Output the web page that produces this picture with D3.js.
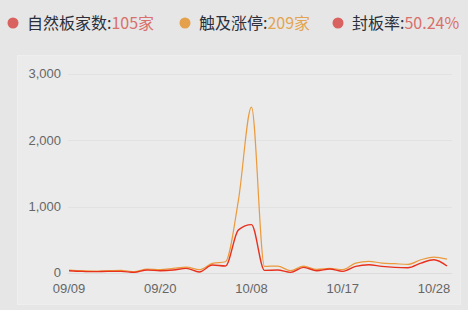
<!DOCTYPE html>
<html>
<head>
<meta charset="utf-8">
<script src="https://cdn.jsdelivr.net/npm/d3@7"></script>
<style>
  html, body { margin: 0; padding: 0; background: #e6e6e6; }
  svg { display: block; font-family: "Microsoft YaHei", "Noto Sans CJK SC", sans-serif; }
  .tick-label { font-family: "Liberation Sans", Arial, sans-serif; font-size: 13px; fill: #666; }
</style>
</head>
<body>
<script>
var width = 468, height = 310;

var dates = ['09/09','09/10','09/11','09/12','09/13','09/18','09/19','09/20','09/23','09/24',
  '09/25','09/26','09/27','09/30','10/08','10/09','10/10','10/11','10/14','10/15',
  '10/16','10/17','10/18','10/21','10/22','10/23','10/24','10/25','10/28','10/29'];
var touchLimit = [45,35,30,35,40,20,60,50,70,90,50,145,170,1100,2500,100,105,35,105,55,
  70,50,150,175,150,140,130,200,240,209];
var natural = [35,25,20,25,25,10,45,35,45,70,15,120,105,650,730,40,45,10,85,35,
  60,25,100,125,100,85,80,150,200,105];
var tickLabels = ['09/09','09/20','10/08','10/17','10/28'];
var yTicks = [0,1000,2000,3000];

var legendItems = [
  {name: '自然板家数', value: '105家', dot: '#d9615f', color: '#d9706b', x: 13},
  {name: '触及涨停', value: '209家', dot: '#e4a04b', color: '#e3a552', x: 185},
  {name: '封板率', value: '50.24%', dot: '#d9615f', color: '#d9706b', x: 338}
];

var svg = d3.select('body').append('svg')
  .attr('width', width)
  .attr('height', height);

// panel behind the chart
svg.append('rect')
  .attr('x', 17.5).attr('y', 55.5)
  .attr('width', 443).attr('height', 249)
  .attr('fill', '#ebebeb')
  .attr('stroke', '#eeeeee');

// legend
var lg = svg.selectAll('.legend')
  .data(legendItems)
  .enter().append('g')
  .attr('class', 'legend')
  .attr('transform', function(d) { return 'translate(' + d.x + ',23)'; });

lg.append('circle')
  .attr('r', 5.5)
  .attr('fill', function(d) { return d.dot; });

var lt = lg.append('text')
  .attr('x', 14)
  .attr('dy', '0.36em')
  .style('font-size', '16px');
lt.append('tspan')
  .attr('fill', '#2b2f3a')
  .text(function(d) { return d.name + ':'; });
lt.append('tspan')
  .attr('fill', function(d) { return d.color; })
  .text(function(d) { return d.value; });

var x = d3.scalePoint()
  .domain(dates)
  .range([69, 447]);

var y = d3.scaleLinear()
  .domain([0, 3000])
  .range([273, 74]);

// grid
svg.append('g')
  .selectAll('line')
  .data(yTicks)
  .enter().append('line')
  .attr('x1', 68).attr('x2', 452)
  .attr('y1', function(d) { return Math.round(y(d)) + 0.5; })
  .attr('y2', function(d) { return Math.round(y(d)) + 0.5; })
  .attr('stroke', function(d) { return d === 0 ? '#dcdcdc' : '#e2e2e2'; });

// y labels
svg.append('g')
  .selectAll('text')
  .data(yTicks)
  .enter().append('text')
  .attr('class', 'tick-label')
  .attr('x', 61)
  .attr('y', function(d) { return y(d) - 0.5; })
  .attr('dy', '0.36em')
  .attr('text-anchor', 'end')
  .text(function(d) { return d3.format(',')(d); });

// x labels
svg.append('g')
  .selectAll('text')
  .data(tickLabels)
  .enter().append('text')
  .attr('class', 'tick-label')
  .attr('x', function(d) { return x(d); })
  .attr('y', 288.5)
  .attr('dy', '0.36em')
  .attr('text-anchor', 'middle')
  .text(function(d) { return d; });

var line = d3.line()
  .x(function(d, i) { return x(dates[i]); })
  .y(function(d) { return y(d); })
  .curve(d3.curveMonotoneX);

svg.append('path')
  .datum(touchLimit)
  .attr('d', line)
  .attr('fill', 'none')
  .attr('stroke', '#eb9a3c')
  .attr('stroke-width', 1.2);

svg.append('path')
  .datum(natural)
  .attr('d', line)
  .attr('fill', 'none')
  .attr('stroke', '#e8301e')
  .attr('stroke-width', 1.4);
</script>
</body>
</html>
